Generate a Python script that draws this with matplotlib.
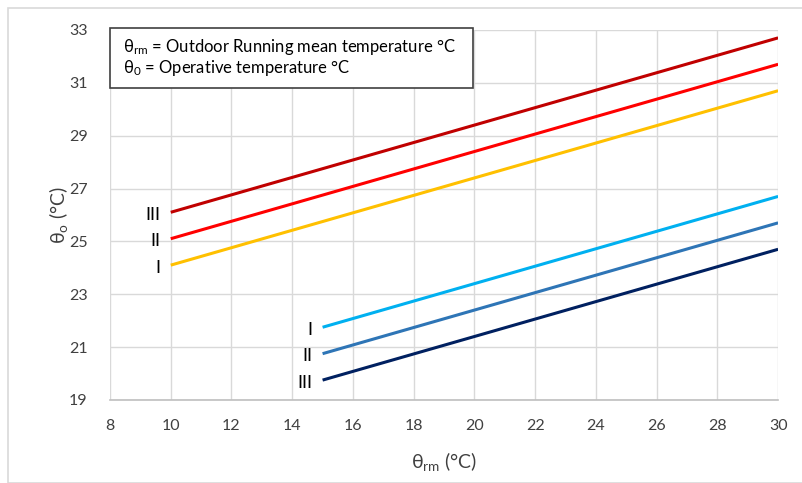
import matplotlib.pyplot as plt
from matplotlib.patches import Rectangle

plt.rcParams["font.family"] = ["Lato", "DejaVu Sans"]

# ---------------- DATA ----------------
upper_x = [10, 30]
upper_I = [24.1, 30.7]
upper_II = [25.1, 31.7]
upper_III = [26.1, 32.7]

lower_x = [15, 30]
lower_I = [21.75, 26.7]
lower_II = [20.75, 25.7]
lower_III = [19.75, 24.7]

x_ticks = list(range(8, 31, 2))
y_ticks = list(range(19, 34, 2))
cat_labels = ["I", "II", "III"]
# --------------------------------------

fig = plt.figure(figsize=(8.03, 4.83), dpi=100)
ax = fig.add_axes([0.137, 0.172, 0.832, 0.766])

# outer chart border
fig.patches.append(Rectangle((8 / 803, 0), 1, 1 - 8 / 483, transform=fig.transFigure,
                             fill=False, edgecolor="#D9D9D9", linewidth=1.2))

lw = 2.2
ax.plot(upper_x, upper_III, color="#C00000", lw=lw, solid_capstyle="butt")
ax.plot(upper_x, upper_II, color="#FF0000", lw=lw, solid_capstyle="butt")
ax.plot(upper_x, upper_I, color="#FFC000", lw=lw, solid_capstyle="butt")
ax.plot(lower_x, lower_I, color="#00B0F0", lw=lw, solid_capstyle="butt")
ax.plot(lower_x, lower_II, color="#2E75B6", lw=lw, solid_capstyle="butt")
ax.plot(lower_x, lower_III, color="#002060", lw=lw, solid_capstyle="butt")

# category labels next to line starts
for lab, yv in zip(cat_labels, [upper_I[0], upper_II[0], upper_III[0]]):
    ax.text(upper_x[0] - 0.35, yv - 0.1, lab, ha="right", va="center", fontsize=13)
for lab, yv in zip(cat_labels, [lower_I[0], lower_II[0], lower_III[0]]):
    ax.text(lower_x[0] - 0.35, yv - 0.1, lab, ha="right", va="center", fontsize=13)

ax.set_xlim(8, 30)
ax.set_ylim(19, 33)
ax.set_xticks(x_ticks)
ax.set_yticks(y_ticks)
ax.grid(True, color="#D9D9D9", linewidth=1.0)
ax.set_axisbelow(True)
for s in ["top", "right", "left"]:
    ax.spines[s].set_visible(False)
ax.spines["bottom"].set_color("#BFBFBF")
ax.spines["bottom"].set_linewidth(1.2)
ax.tick_params(length=0, labelsize=11.5, colors="#404040")
ax.tick_params(axis="x", pad=14)
ax.tick_params(axis="y", pad=16)

ax.set_xlabel(r"$\mathregular{θ_{rm}}$ (°C)", fontsize=14, color="#404040")
ax.set_ylabel(r"$\mathregular{θ_{o}}$ (°C)", fontsize=14, color="#404040")
ax.xaxis.set_label_coords(0.5, -0.135)
ax.yaxis.set_label_coords(-0.06, 0.5)

# explanation box
ax.add_patch(Rectangle((8, 30.8), 11.95, 2.28, transform=ax.transData, facecolor="white",
                       edgecolor="#404040", linewidth=1.2, zorder=5, clip_on=False))
ax.text(8.43, 32.35, r"$\mathregular{θ_{rm}}$ = Outdoor Running mean temperature °C",
        fontsize=12, va="center", zorder=6)
ax.text(8.43, 31.55, r"$\mathregular{θ_{0}}$ = Operative temperature °C",
        fontsize=12, va="center", zorder=6)

fig.savefig("out.png", dpi=100, facecolor="white")
